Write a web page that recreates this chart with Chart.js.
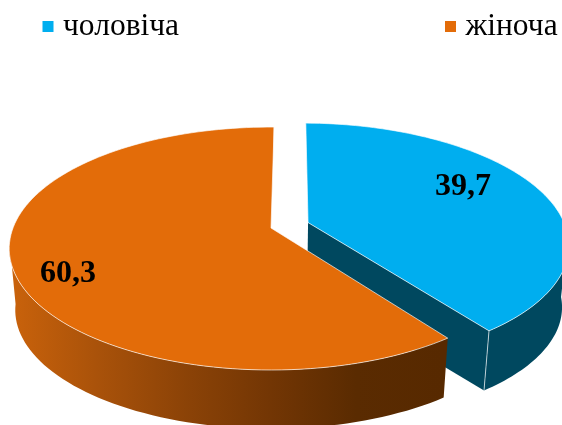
<!DOCTYPE html>
<html>
<head>
<meta charset="utf-8">
<style>html,body{margin:0;padding:0;background:#fff}canvas{display:block}</style>
<script src="https://cdn.jsdelivr.net/npm/chart.js@4"></script>
</head>
<body>
<canvas id="c" width="562" height="425"></canvas>
<script>
const categories = ['чоловіча', 'жіноча'];
const shares = [39.7, 60.3];
const topColors = ['#00AEEF', '#E36C09'];

// Perspective view of the pie plane: unit-circle world coordinates to screen pixels
const view = {ax: 271, ay: 228, rx: 258, ry: 118, persp: 0.169, depthScale: 0.977, depth: 62};
function project(X, Z, lower) {
  const s = 1 / (1 - view.persp * Z);
  let x = view.rx * X * s, y = view.ry * Z * s;
  if (lower) { x *= view.depthScale; y = y * view.depthScale + view.depth; }
  return [view.ax + x, view.ay + y];
}

const pie3d = {
  id: 'pie3d',
  beforeDatasetsDraw(chart, args, opts) {
    const ctx = chart.ctx;
    const arcs = chart.getDatasetMeta(0).data;
    arcs.forEach((el, i) => {
      const a0 = el.startAngle + Math.PI / 2, a1 = el.endAngle + Math.PI / 2, mid = (a0 + a1) / 2;
      const ox = Math.sin(mid) * opts.explode[i], oz = -Math.cos(mid) * opts.explode[i];
      const steps = 120, rim = [], front = [];
      for (let k = 0; k <= steps; k++) {
        const a = a0 + (a1 - a0) * k / steps;
        const p = [ox + Math.sin(a), oz - Math.cos(a)];
        rim.push(p);
        if (-Math.cos(a) >= opts.silhouette) front.push(p);
      }
      const trace = (pts) => pts.forEach((p, k) => k ? ctx.lineTo(p[0], p[1]) : ctx.moveTo(p[0], p[1]));
      const upper = rim.map(p => project(p[0], p[1], false));
      const frontU = front.map(p => project(p[0], p[1], false));
      const frontL = front.map(p => project(p[0], p[1], true));
      const apexU = project(ox, oz, false), apexL = project(ox, oz, true);
      let wall = opts.walls[i];
      if (Array.isArray(wall)) {
        const g = ctx.createLinearGradient(opts.wallFrom, 0, opts.wallTo, 0);
        wall.forEach((c, k) => g.addColorStop(k / (wall.length - 1), c));
        wall = g;
      }
      // outer wall (front-facing part of the rim only)
      ctx.beginPath(); trace(frontU.concat(frontL.slice().reverse())); ctx.closePath();
      ctx.fillStyle = wall; ctx.fill();
      // cut face at the end of the slice
      const tipU = upper[steps], tipL = project(rim[steps][0], rim[steps][1], true);
      if (opts.cutFace[i]) {
        ctx.beginPath(); trace([apexU, tipU, tipL, apexL]); ctx.closePath();
        ctx.fillStyle = opts.cutFace[i]; ctx.fill();
      }
      // top face
      ctx.beginPath(); ctx.moveTo(apexU[0], apexU[1]); upper.forEach(p => ctx.lineTo(p[0], p[1])); ctx.closePath();
      ctx.fillStyle = el.options.backgroundColor; ctx.fill();
      ctx.strokeStyle = 'rgba(255,255,255,0.65)'; ctx.lineWidth = 1; ctx.lineJoin = 'round'; ctx.stroke();
      // corner highlight
      ctx.beginPath(); trace([tipU, tipL]); ctx.stroke();
    });
    return false;
  },
  afterDraw(chart, args, opts) {
    const ctx = chart.ctx;
    ctx.save();
    // value labels
    ctx.fillStyle = '#000'; ctx.font = opts.valueFont;
    ctx.textAlign = 'center'; ctx.textBaseline = 'middle';
    shares.forEach((v, i) => {
      ctx.fillText(String(v).replace('.', ','), opts.valueAt[i][0], opts.valueAt[i][1]);
    });
    // legend
    ctx.font = opts.legendFont; ctx.textAlign = 'left';
    categories.forEach((name, i) => {
      const [x, y] = opts.legendAt[i];
      ctx.fillStyle = topColors[i];
      ctx.fillRect(x, y - 5.5, 11, 11);
      ctx.fillStyle = '#000';
      ctx.fillText(name, x + opts.legendGap, y);
    });
    ctx.restore();
  }
};

new Chart(document.getElementById('c'), {
  type: 'pie',
  data: {
    labels: categories,
    datasets: [{data: shares, backgroundColor: topColors, borderWidth: 0}]
  },
  options: {
    responsive: false,
    animation: false,
    rotation: 0.8,
    plugins: {
      legend: {display: false},
      tooltip: {enabled: false},
      pie3d: {
        explode: [0.152, 0],
        silhouette: 0.1,
        walls: ['#00485F', ['#C9620B', '#A9520A', '#8C4307', '#733604', '#5A2B01', '#572900']],
        cutFace: ['#00485F', null],
        wallFrom: 12, wallTo: 442,
        valueFont: 'bold 32px "Liberation Serif"',
        valueAt: [[463, 187], [68, 274]],
        legendFont: '31.5px "Liberation Serif"',
        legendAt: [[42.5, 26.5], [445, 26.5]],
        legendGap: 20.5
      }
    }
  },
  plugins: [pie3d]
});
</script>
</body>
</html>
